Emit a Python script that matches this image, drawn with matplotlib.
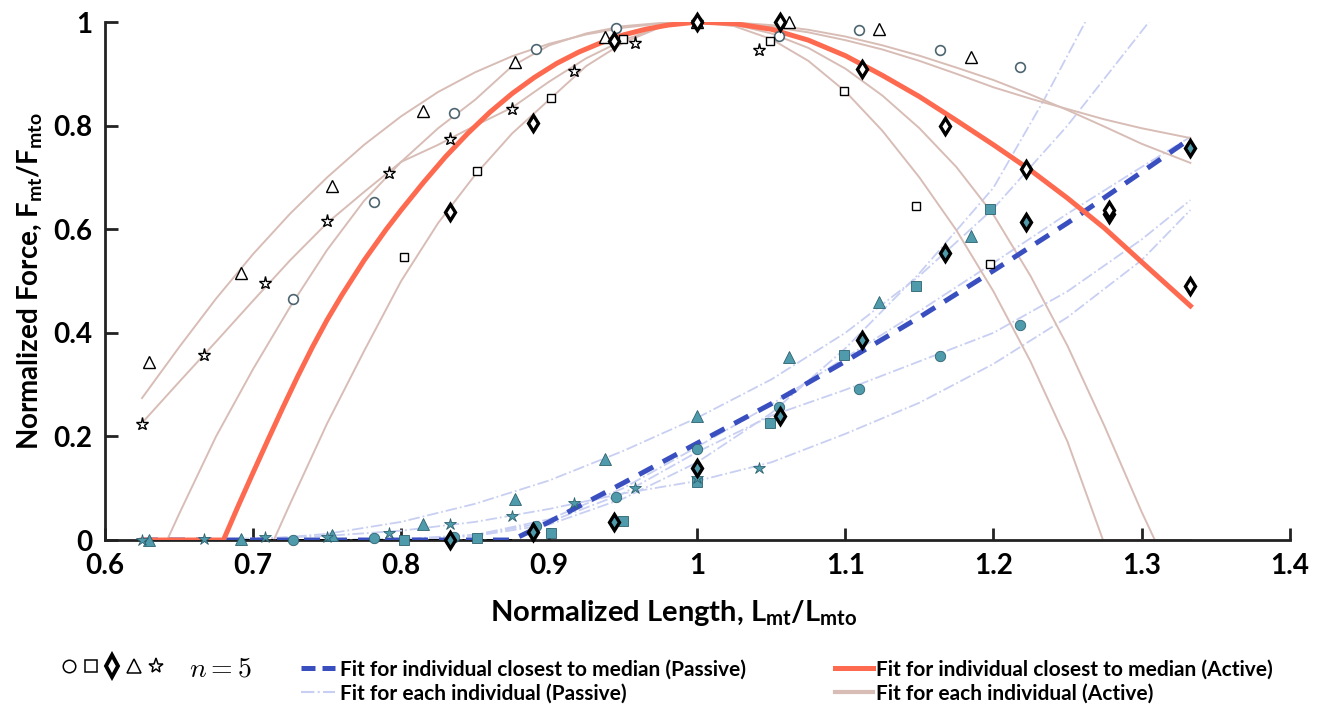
import numpy as np
import matplotlib
matplotlib.use('Agg')
import matplotlib.pyplot as plt
from matplotlib.lines import Line2D
from matplotlib.legend_handler import HandlerTuple
from matplotlib.font_manager import FontProperties

plt.rcParams['font.family'] = ['Lato', 'DejaVu Sans']
plt.rcParams['font.weight'] = 'bold'
plt.rcParams['mathtext.fontset'] = 'custom'
plt.rcParams['mathtext.rm'] = 'Lato:bold'
plt.rcParams['mathtext.bf'] = 'Lato:bold'

# measured points (active = hollow, passive = filled)
circle_x = [0.727, 0.782, 0.836, 0.891, 0.945, 1.0, 1.055, 1.109, 1.164, 1.218]
circle_act = [0.465, 0.653, 0.824, 0.948, 0.988, 1.0, 0.973, 0.985, 0.946, 0.913]
circle_pas = [0.0, 0.004, 0.006, 0.027, 0.083, 0.176, 0.257, 0.292, 0.355, 0.415]

square_x = [0.802, 0.851, 0.901, 0.95, 1.0, 1.049, 1.099, 1.148, 1.198]
square_act = [0.546, 0.712, 0.853, 0.967, 1.0, 0.963, 0.867, 0.645, 0.533]
square_pas = [0.0, 0.004, 0.013, 0.037, 0.112, 0.226, 0.357, 0.49, 0.639]

diamond_x = [0.833, 0.889, 0.944, 1.0, 1.056, 1.111, 1.167, 1.222, 1.278, 1.333]
diamond_act = [0.633, 0.805, 0.963, 1.0, 1.0, 0.909, 0.799, 0.716, 0.637, 0.49]
diamond_pas = [0.0, 0.016, 0.035, 0.139, 0.24, 0.386, 0.554, 0.614, 0.63, 0.757]

triangle_x = [0.630, 0.692, 0.753, 0.815, 0.877, 0.938, 1.0, 1.062, 1.123, 1.185]
triangle_act = [0.344, 0.515, 0.683, 0.828, 0.923, 0.971, 1.0, 1.0, 0.987, 0.933]
triangle_pas = [0.0, 0.002, 0.01, 0.03, 0.08, 0.157, 0.24, 0.353, 0.459, 0.587]

star_x = [0.625, 0.667, 0.708, 0.75, 0.792, 0.833, 0.875, 0.917, 0.958, 1.0, 1.042]
star_act = [0.224, 0.357, 0.496, 0.616, 0.708, 0.774, 0.832, 0.905, 0.959, 1.0, 0.946]
star_pas = [0.0, 0.002, 0.006, 0.006, 0.014, 0.031, 0.046, 0.071, 0.1, 0.12, 0.139]

# fitted curves
med_act_x = [0.625, 0.68, 0.69, 0.7, 0.71, 0.72, 0.73, 0.74, 0.75, 0.76, 0.775, 0.79, 0.8, 0.815, 0.83,
             0.845, 0.86, 0.875, 0.89, 0.905, 0.92, 0.935, 0.95, 0.965, 0.98, 1.0,
             1.025, 1.05, 1.075, 1.1, 1.125, 1.15, 1.175, 1.2, 1.225, 1.25, 1.275, 1.3, 1.333]
med_act_y = [0.0, 0.0, 0.066, 0.13, 0.193, 0.255, 0.315, 0.372, 0.425, 0.473, 0.54, 0.6, 0.637, 0.69, 0.74,
             0.785, 0.826, 0.862, 0.893, 0.92, 0.942, 0.96, 0.975, 0.986, 0.994, 1.0,
             0.997, 0.986, 0.965, 0.935, 0.897, 0.856, 0.81, 0.763, 0.714, 0.66, 0.602, 0.537, 0.452]

med_pas_x = [0.625, 0.875, 0.9, 0.95, 1.0, 1.05, 1.1, 1.15, 1.2, 1.25, 1.3, 1.333]
med_pas_y = [0.0, 0.0, 0.035, 0.11, 0.187, 0.263, 0.345, 0.43, 0.52, 0.612, 0.71, 0.775]

act_fit_x = [
    [0.625, 0.65, 0.675, 0.7, 0.725, 0.75, 0.775, 0.8, 0.825, 0.85, 0.875, 0.9, 0.925, 0.95, 0.975, 1.0,
     1.025, 1.05, 1.075, 1.1, 1.125, 1.15, 1.175, 1.2, 1.225, 1.25, 1.275, 1.3, 1.333],
    [0.625, 0.65, 0.675, 0.7, 0.725, 0.75, 0.775, 0.8, 0.825, 0.85, 0.875, 0.9, 0.925, 0.95, 0.975, 1.0,
     1.025, 1.05, 1.075, 1.1, 1.125, 1.15, 1.175, 1.2, 1.225, 1.25, 1.275, 1.3, 1.309, 1.333],
    [0.625, 0.642, 0.65, 0.675, 0.7, 0.725, 0.75, 0.775, 0.8, 0.825, 0.85, 0.875, 0.9, 0.925, 0.95, 0.975, 1.0,
     1.025, 1.05, 1.075, 1.1, 1.125, 1.15, 1.175, 1.2, 1.225, 1.25, 1.275, 1.3, 1.333],
    [0.625, 0.714, 0.725, 0.75, 0.775, 0.8, 0.825, 0.85, 0.875, 0.9, 0.925, 0.95, 0.975, 1.0,
     1.025, 1.05, 1.075, 1.1, 1.125, 1.15, 1.175, 1.2, 1.225, 1.25, 1.274, 1.333],
]
act_fit_y = [
    [0.274, 0.372, 0.466, 0.552, 0.63, 0.70, 0.763, 0.818, 0.865, 0.903, 0.934, 0.958, 0.976, 0.989, 0.997, 1.0,
     0.998, 0.991, 0.98, 0.965, 0.947, 0.925, 0.9, 0.874, 0.852, 0.832, 0.812, 0.795, 0.776],
    [0.226, 0.305, 0.383, 0.462, 0.54, 0.612, 0.672, 0.73, 0.763, 0.8, 0.835, 0.885, 0.93, 0.965, 0.99, 1.0,
     0.995, 0.978, 0.95, 0.91, 0.858, 0.795, 0.72, 0.628, 0.51, 0.375, 0.22, 0.055, 0.0, 0.0],
    [0.0, 0.0, 0.05, 0.2, 0.33, 0.45, 0.56, 0.655, 0.73, 0.795, 0.85, 0.915, 0.955, 0.978, 0.992, 0.998, 1.0,
     0.999, 0.994, 0.985, 0.972, 0.955, 0.935, 0.912, 0.888, 0.86, 0.83, 0.798, 0.765, 0.728],
    [0.0, 0.0, 0.07, 0.225, 0.365, 0.5, 0.612, 0.705, 0.785, 0.85, 0.915, 0.96, 0.99, 1.0,
     0.992, 0.967, 0.925, 0.866, 0.79, 0.7, 0.598, 0.48, 0.345, 0.19, 0.0, 0.0],
]

pas_fit_x = [
    [0.625, 0.7, 0.75, 0.8, 0.85, 0.9, 0.95, 1.0, 1.05, 1.1, 1.15, 1.2, 1.25, 1.305],
    [0.625, 0.8, 0.85, 0.9, 0.95, 1.0, 1.05, 1.1, 1.15, 1.2, 1.234, 1.262],
    [0.625, 0.73, 0.8, 0.85, 0.9, 0.95, 1.0, 1.05, 1.1, 1.15, 1.2, 1.25, 1.3, 1.333],
    [0.625, 0.7, 0.75, 0.8, 0.85, 0.9, 0.95, 1.0, 1.05, 1.1, 1.15, 1.2, 1.25, 1.3, 1.333],
    [0.625, 0.8, 0.85, 0.9, 0.95, 1.0, 1.05, 1.1, 1.15, 1.2, 1.25, 1.3, 1.333],
]
pas_fit_y = [
    [0.0, 0.0, 0.012, 0.035, 0.07, 0.115, 0.172, 0.236, 0.31, 0.4, 0.51, 0.64, 0.8, 1.0],
    [0.0, 0.0, 0.008, 0.03, 0.08, 0.15, 0.245, 0.37, 0.515, 0.68, 0.849, 1.0],
    [0.0, 0.0, 0.002, 0.01, 0.035, 0.09, 0.17, 0.24, 0.29, 0.345, 0.4, 0.48, 0.58, 0.656],
    [0.0, 0.003, 0.008, 0.018, 0.035, 0.06, 0.09, 0.114, 0.15, 0.205, 0.265, 0.34, 0.43, 0.54, 0.637],
    [0.0, 0.0, 0.01, 0.04, 0.1, 0.18, 0.262, 0.352, 0.442, 0.535, 0.63, 0.72, 0.778],
]

red = '#fe6a4f'
blue = '#3a4fbf'
pink = '#d8bdb6'
lav = '#c8cff2'
teal = '#4f9bab'
teal_edge = '#2d6270'

fig = plt.figure(figsize=(13.24, 7.10), dpi=100)
ax = fig.add_axes([0.0793, 0.2394, 0.8947, 0.7296])

for xs, ys in zip(pas_fit_x, pas_fit_y):
    ax.plot(xs, ys, color=lav, lw=1.3, ls='-.', zorder=2)
for xs, ys in zip(act_fit_x, act_fit_y):
    ax.plot(xs, ys, color=pink, lw=1.4, zorder=2)

ax.plot([0.625, 0.875], [0, 0], color='black', lw=1.3, ls='-.', zorder=3)
ax.plot(med_pas_x, med_pas_y, color=blue, lw=3.6, ls=(0, (3.2, 2.2)), zorder=4)
ax.plot(med_act_x, med_act_y, color=red, lw=3.6, zorder=4)

# passive markers
kw_p = dict(ls='none', mfc=teal, mec=teal_edge, mew=0.6, zorder=5, clip_on=False)
ax.plot(circle_x, circle_pas, marker='o', ms=7.5, **kw_p)
ax.plot(square_x, square_pas, marker='s', ms=6.5, **kw_p)
ax.plot(triangle_x, triangle_pas, marker='^', ms=8, **kw_p)
ax.plot(star_x, star_pas, marker='*', ms=9, **kw_p)
ax.plot(diamond_x, diamond_pas, marker='d', ms=8.5, ls='none', mfc=teal, mec='black', mew=2.4,
        zorder=6, clip_on=False)

# active markers
kw_a = dict(ls='none', mfc='white', mec='black', mew=1.0, zorder=5, clip_on=False)
ax.plot(circle_x, circle_act, marker='o', ms=7, ls='none', mfc='white', mec='#4d6570', mew=1.2,
        zorder=5, clip_on=False)
ax.plot(square_x, square_act, marker='s', ms=6, **kw_a)
ax.plot(triangle_x, triangle_act, marker='^', ms=8, **kw_a)
ax.plot(star_x, star_act, marker='*', ms=9.5, **kw_a)
ax.plot(diamond_x, diamond_act, marker='d', ms=8.5, ls='none', mfc='white', mec='black', mew=2.4,
        zorder=6, clip_on=False)

ax.set_xlim(0.6, 1.4)
ax.set_ylim(0, 1)
ax.set_xticks([0.6, 0.7, 0.8, 0.9, 1.0, 1.1, 1.2, 1.3, 1.4])
ax.set_xticklabels(['0.6', '0.7', '0.8', '0.9', '1', '1.1', '1.2', '1.3', '1.4'])
ax.set_yticks([0, 0.2, 0.4, 0.6, 0.8, 1.0])
ax.set_yticklabels(['0', '0.2', '0.4', '0.6', '0.8', '1'])
ax.tick_params(direction='in', length=9, width=2, labelsize=20, color='#222222', pad=9)
for s in ['top', 'right']:
    ax.spines[s].set_visible(False)
for s in ['left', 'bottom']:
    ax.spines[s].set_linewidth(2)
    ax.spines[s].set_color('#222222')

ax.set_xlabel(r'Normalized Length, L$_\mathrm{mt}$/L$_\mathrm{mto}$', fontsize=21, fontweight='bold')
ax.xaxis.set_label_coords(0.48, -0.112)
ax.set_ylabel(r'Normalized Force, F$_\mathrm{mt}$/F$_\mathrm{mto}$', fontsize=20, fontweight='bold', labelpad=6)

# legends
mk = [Line2D([], [], ls='none', marker='o', ms=9, mfc='white', mec='black', mew=1.1),
      Line2D([], [], ls='none', marker='s', ms=8, mfc='white', mec='black', mew=1.1),
      Line2D([], [], ls='none', marker='d', ms=11, mfc='white', mec='black', mew=2.8),
      Line2D([], [], ls='none', marker='^', ms=10, mfc='white', mec='black', mew=1.1),
      Line2D([], [], ls='none', marker='*', ms=11, mfc='white', mec='black', mew=1.1)]
fig.legend([tuple(mk)], [r'$n = 5$'], handler_map={tuple: HandlerTuple(ndivide=None, pad=0.0)},
           loc='center left', bbox_to_anchor=(0.044, 0.059), frameon=False, handlelength=3.9,
           handletextpad=0.8, borderpad=0, borderaxespad=0,
           prop=FontProperties(size=20, math_fontfamily='cm'))

leg_font = FontProperties(family='Lato', weight='bold', size=15)
h_pas = [Line2D([], [], color=blue, lw=3.6, ls=(0, (2.8, 1.4))),
         Line2D([], [], color=lav, lw=1.5, ls='-.')]
fig.legend(h_pas, ['Fit for individual closest to median (Passive)', 'Fit for each individual (Passive)'],
           loc='upper left', bbox_to_anchor=(0.227, 0.071), frameon=False, handlelength=1.65,
           handletextpad=0.25, labelspacing=0.2, borderpad=0, borderaxespad=0, prop=leg_font)

h_act = [Line2D([], [], color=red, lw=3.6), Line2D([], [], color=pink, lw=3)]
fig.legend(h_act, ['Fit for individual closest to median (Active)', 'Fit for each individual (Active)'],
           loc='upper left', bbox_to_anchor=(0.631, 0.071), frameon=False, handlelength=1.8,
           handletextpad=0.15, labelspacing=0.2, borderpad=0, borderaxespad=0, prop=leg_font)

fig.savefig('out.png', dpi=100)
